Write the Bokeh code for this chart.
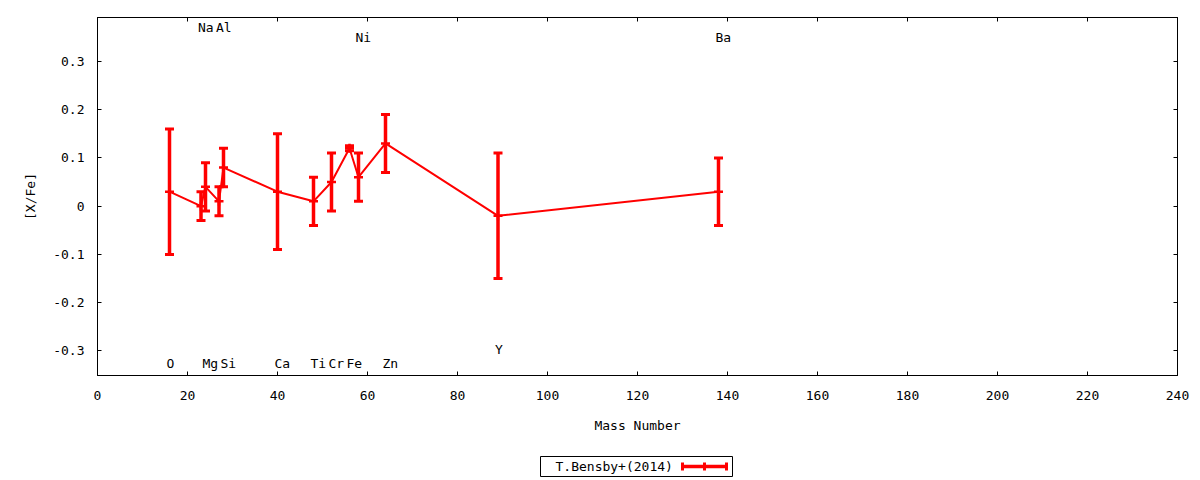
from bokeh.plotting import figure
from bokeh.models import (Range1d, LinearAxis, FixedTicker, CustomJSTickFormatter,
                          ColumnDataSource, Spacer)
from bokeh.layouts import column, row
from bokeh.core.properties import value
from bokeh.embed import file_html
from bokeh.resources import INLINE

# ---- data ----
elements = ["O", "Na", "Mg", "Al", "Si", "Ca", "Ti", "Cr", "Fe", "Ni", "Zn", "Y", "Ba"]
mass = [16, 23, 24, 27, 28, 40, 48, 52, 56, 58, 64, 89, 138]
xfe = [0.03, 0.00, 0.04, 0.01, 0.08, 0.03, 0.01, 0.05, 0.12, 0.06, 0.13, -0.02, 0.03]
xfe_err = [0.13, 0.03, 0.05, 0.03, 0.04, 0.12, 0.05, 0.06, 0.005, 0.05, 0.06, 0.13, 0.07]
label_y = [-0.326, 0.37, -0.326, 0.37, -0.326, -0.326, -0.326, -0.326, -0.326, 0.35, -0.326, -0.298, 0.35]

x_ticks = [0, 20, 40, 60, 80, 100, 120, 140, 160, 180, 200, 220, 240]
x_tick_labels = ["0", "20", "40", "60", "80", "100", "120", "140", "160", "180", "200", "220", "240"]
y_ticks = [-0.3, -0.2, -0.1, 0.0, 0.1, 0.2, 0.3]
y_tick_labels = ["-0.3", "-0.2", "-0.1", "0", "0.1", "0.2", "0.3"]

series_name = "T.Bensby+(2014)"
x_title = "Mass Number"
y_title = "[X/Fe]"

FONT = "DejaVu Sans Mono"
FS = "13px"
RED = "#ff0000"

lo = [v - e for v, e in zip(xfe, xfe_err)]
hi = [v + e for v, e in zip(xfe, xfe_err)]
src = ColumnDataSource(dict(x=mass, y=xfe, lo=lo, hi=hi))
lab_src = ColumnDataSource(dict(x=mass, y=label_y, t=elements))

p = figure(width=1200, height=455, output_backend="svg", toolbar_location=None,
           x_range=Range1d(0, 240), y_range=Range1d(-0.351, 0.391),
           min_border_left=97, min_border_right=23, min_border_top=17, min_border_bottom=80,
           background_fill_color="white", border_fill_color="white")
p.xgrid.visible = False
p.ygrid.visible = False
p.outline_line_color = "black"
p.outline_line_width = 1
p.outline_line_alpha = 1

def style_axis(ax, ticks, labels, show_labels=True):
    ax.ticker = FixedTicker(ticks=ticks)
    ax.minor_tick_line_color = None
    ax.major_tick_in = 4
    ax.major_tick_out = 0
    ax.major_tick_line_color = "black"
    ax.axis_line_color = "black"
    if show_labels:
        ax.major_label_overrides = dict(zip(ticks, labels))
        ax.major_label_text_font = FONT
        ax.major_label_text_font_size = FS
        ax.major_label_text_color = "black"
        ax.axis_label_text_font = FONT
        ax.axis_label_text_font_size = FS
        ax.axis_label_text_font_style = "normal"
        ax.axis_label_text_color = "black"
    else:
        ax.formatter = CustomJSTickFormatter(code="return ''")
        ax.major_label_text_font_size = "0px"
        ax.major_label_standoff = 0

xa = p.xaxis[0]
style_axis(xa, x_ticks, x_tick_labels)
xa.axis_label = x_title
xa.major_label_standoff = 15
xa.axis_label_standoff = 15

ya = p.yaxis[0]
style_axis(ya, y_ticks, y_tick_labels)
ya.axis_label = y_title
ya.major_label_standoff = 13
ya.axis_label_standoff = 12

top = LinearAxis()
style_axis(top, x_ticks, x_tick_labels, show_labels=False)
p.add_layout(top, "above")
right = LinearAxis()
style_axis(right, y_ticks, y_tick_labels, show_labels=False)
p.add_layout(right, "right")

# connecting line
p.line("x", "y", source=src, line_color=RED, line_width=2)
# error bars
p.segment(x0="x", y0="lo", x1="x", y1="hi", source=src, line_color=RED, line_width=3.5)
p.scatter("x", "lo", source=src, marker="dash", size=9, line_color=RED, line_width=3)
p.scatter("x", "hi", source=src, marker="dash", size=9, line_color=RED, line_width=3)
p.scatter("x", "y", source=src, marker="cross", size=9, line_color=RED, line_width=2.5)

# element labels
p.text("x", "y", text="t", source=lab_src, text_font=value(FONT), text_font_size=FS,
       text_color="black", text_align="left", text_baseline="middle", x_offset=-3)

# ---- legend box (gnuplot style: text left, key sample right) ----
LW, LH = 192, 20
lg = figure(width=LW + 2, height=LH + 2, output_backend="svg", toolbar_location=None,
            x_range=Range1d(0, LW), y_range=Range1d(0, LH),
            min_border_left=1, min_border_right=1, min_border_top=1, min_border_bottom=1,
            background_fill_color="white", border_fill_color="white")
lg.axis.visible = False
lg.grid.visible = False
lg.outline_line_color = "black"
lg.outline_line_width = 1
lg.outline_line_alpha = 1
mid = LH / 2
lg.text(x=[15], y=[mid], text=[series_name], text_font=value(FONT), text_font_size=FS,
        text_color="black", text_align="left", text_baseline="middle")
key_x0, key_x1 = 142, 186
lg.segment(x0=[key_x0], y0=[mid], x1=[key_x1], y1=[mid], line_color=RED, line_width=3.5)
key_ticks = [key_x0, (key_x0 + key_x1) / 2, key_x1]
lg.segment(x0=key_ticks, y0=[mid - 4] * 3, x1=key_ticks, y1=[mid + 4] * 3,
           line_color=RED, line_width=3)

layout = column(p, row(Spacer(width=539, height=LH + 2), lg))

open("out.html", "w").write(file_html(layout, INLINE))
